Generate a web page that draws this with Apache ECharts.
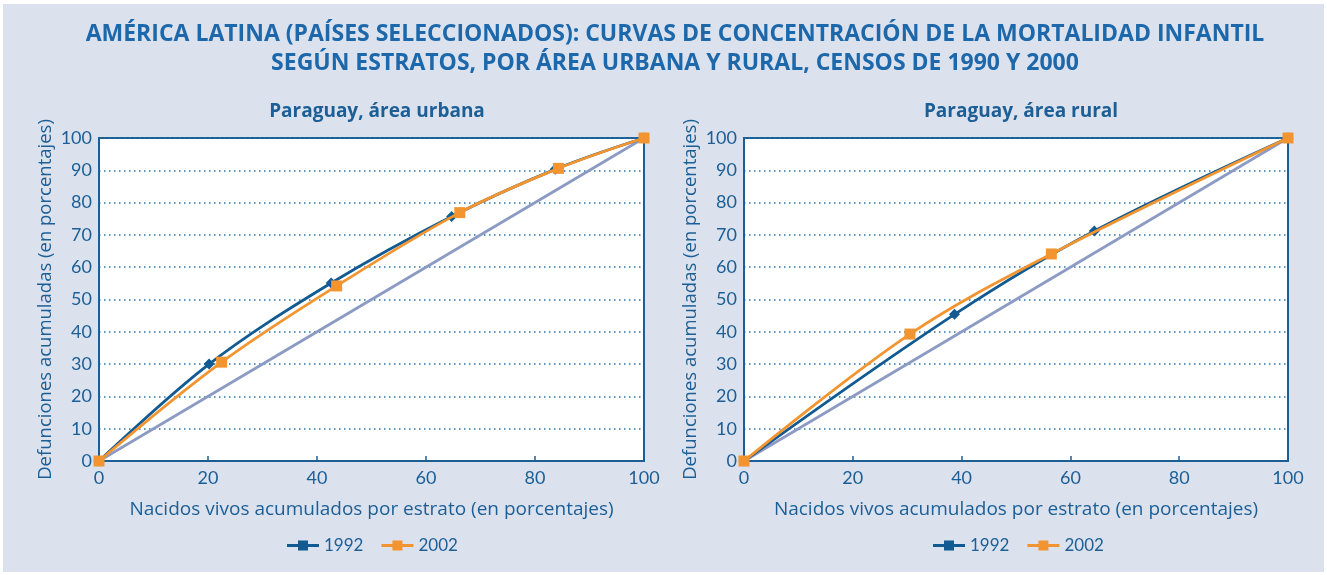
<!DOCTYPE html>
<html>
<head>
<meta charset="utf-8">
<script src="https://cdn.jsdelivr.net/npm/echarts@6/dist/echarts.min.js"></script>
<style>
  html, body { margin: 0; padding: 0; background: #ffffff; }
  #panel { position: absolute; left: 3px; top: 4px; width: 1321px; height: 568px; background: #dce1ee; }
  #chart { position: absolute; left: 0; top: 0; width: 1327px; height: 575px; }
</style>
</head>
<body>
<div id="panel"></div>
<div id="chart"></div>
<script>
// Cumulative live births (x, %) and cumulative infant deaths (y, %) by stratum
const urbanX1992 = [0, 20.2, 42.6, 64.7, 83.7, 100];
const urbanY1992 = [0, 30.0, 55.1, 75.7, 90.3, 100];
const urbanX2002 = [0, 22.5, 43.6, 66.2, 84.3, 100];
const urbanY2002 = [0, 30.6, 54.2, 76.9, 90.6, 100];

const ruralX1992 = [0, 38.7, 64.4, 100];
const ruralY1992 = [0, 45.4, 71.2, 100];
const ruralX2002 = [0, 30.5, 56.5, 100];
const ruralY2002 = [0, 39.3, 64.1, 100];

// Equality line
const equalX = [0, 100];
const equalY = [0, 100];

const seriesNames = ['1992', '2002'];

const mainTitle = 'AMÉRICA LATINA (PAÍSES SELECCIONADOS): CURVAS DE CONCENTRACIÓN DE LA MORTALIDAD INFANTIL\nSEGÚN ESTRATOS, POR ÁREA URBANA Y RURAL, CENSOS DE 1990 Y 2000';
const panelTitles = ['Paraguay, área urbana', 'Paraguay, área rural'];
const xName = 'Nacidos vivos acumulados por estrato (en porcentajes)';
const yName = 'Defunciones acumuladas (en porcentajes)';

const pairs = (xs, ys) => xs.map((x, i) => [x, ys[i]]);

const DARK = '#1b5f96';
const TITLE = '#1d68aa';
const C1992 = '#115a92';
const C2002 = '#f29530';
const DIAG = '#8c9bc4';
const FONT = 'Lato, "DejaVu Sans", sans-serif';
const WIDE = '"Open Sans", Lato, sans-serif';

const legendIcon = 'path://M0,3.5 H11 V0 H21 V3.5 H32 V6.5 H21 V10 H11 V6.5 H0 Z';

function gridDef(left, right) {
  return {
    left: left, right: right, top: 138, bottom: 114,
    show: true, backgroundColor: '#ffffff',
    borderColor: DARK, borderWidth: 2
  };
}

function xAxisDef(idx) {
  return {
    type: 'value', gridIndex: idx, min: 0, max: 100, interval: 20,
    name: xName, nameLocation: 'middle', nameGap: 39,
    nameTextStyle: { color: DARK, fontSize: 19, fontFamily: WIDE },
    axisLine: { show: true, lineStyle: { color: DARK, width: 2 } },
    axisTick: { show: true, inside: true, length: 5, lineStyle: { color: DARK, width: 1.5 } },
    axisLabel: { color: DARK, fontSize: 18, fontFamily: FONT, margin: 8 },
    splitLine: { show: false }
  };
}

function yAxisDef(idx) {
  return {
    type: 'value', gridIndex: idx, min: 0, max: 100, interval: 10,
    name: yName, nameLocation: 'middle', nameGap: 44,
    nameTextStyle: { color: DARK, fontSize: 18.5, fontFamily: WIDE },
    axisLine: { show: true, lineStyle: { color: DARK, width: 2 } },
    axisTick: { show: false },
    axisLabel: { color: DARK, fontSize: 18, fontFamily: FONT, margin: 7 },
    splitLine: { show: true, lineStyle: { color: '#2a72a8', width: 1.5, type: [1.5, 3.5] } }
  };
}

function curve(name, idx, xs, ys, color, symbol, size) {
  return {
    name: name, type: 'line', xAxisIndex: idx, yAxisIndex: idx,
    data: pairs(xs, ys), smooth: 0.35,
    symbol: symbol, symbolSize: size, showAllSymbol: true,
    lineStyle: { color: color, width: 2.8 },
    itemStyle: { color: color },
    z: name === '2002' ? 4 : 3
  };
}

function diagonal(idx) {
  return {
    name: 'igualdad', type: 'line', xAxisIndex: idx, yAxisIndex: idx,
    data: pairs(equalX, equalY), symbol: 'none',
    lineStyle: { color: DIAG, width: 2.8 }, z: 2
  };
}

function legendDef(center) {
  return {
    left: center - 90, top: 532, width: 190, orient: 'horizontal',
    itemWidth: 32, itemHeight: 10, itemGap: 18,
    textStyle: { color: DARK, fontSize: 17, fontFamily: FONT },
    data: seriesNames.map(n => ({ name: n, icon: legendIcon })),
    selectedMode: false
  };
}

const chart = echarts.init(document.getElementById('chart'), null, { renderer: 'canvas' });

chart.setOption({
  backgroundColor: 'transparent',
  animation: false,
  title: [
    {
      text: mainTitle, left: 670, top: 15, textAlign: 'center',
      textStyle: { color: TITLE, fontSize: 23, fontWeight: 'bold', fontFamily: WIDE, lineHeight: 29 }
    },
    {
      text: panelTitles[0], left: 372, top: 97, textAlign: 'center',
      textStyle: { color: DARK, fontSize: 19, fontWeight: 'bold', fontFamily: WIDE }
    },
    {
      text: panelTitles[1], left: 1016, top: 97, textAlign: 'center',
      textStyle: { color: DARK, fontSize: 19, fontWeight: 'bold', fontFamily: WIDE }
    }
  ],
  legend: [legendDef(372), legendDef(1018)],
  grid: [gridDef(99, 683), gridDef(744, 39)],
  xAxis: [xAxisDef(0), xAxisDef(1)],
  yAxis: [yAxisDef(0), yAxisDef(1)],
  series: [
    diagonal(0),
    curve('1992', 0, urbanX1992, urbanY1992, C1992, 'diamond', 11),
    curve('2002', 0, urbanX2002, urbanY2002, C2002, 'rect', 11),
    diagonal(1),
    curve('1992', 1, ruralX1992, ruralY1992, C1992, 'diamond', 11),
    curve('2002', 1, ruralX2002, ruralY2002, C2002, 'rect', 11)
  ]
});
</script>
</body>
</html>
